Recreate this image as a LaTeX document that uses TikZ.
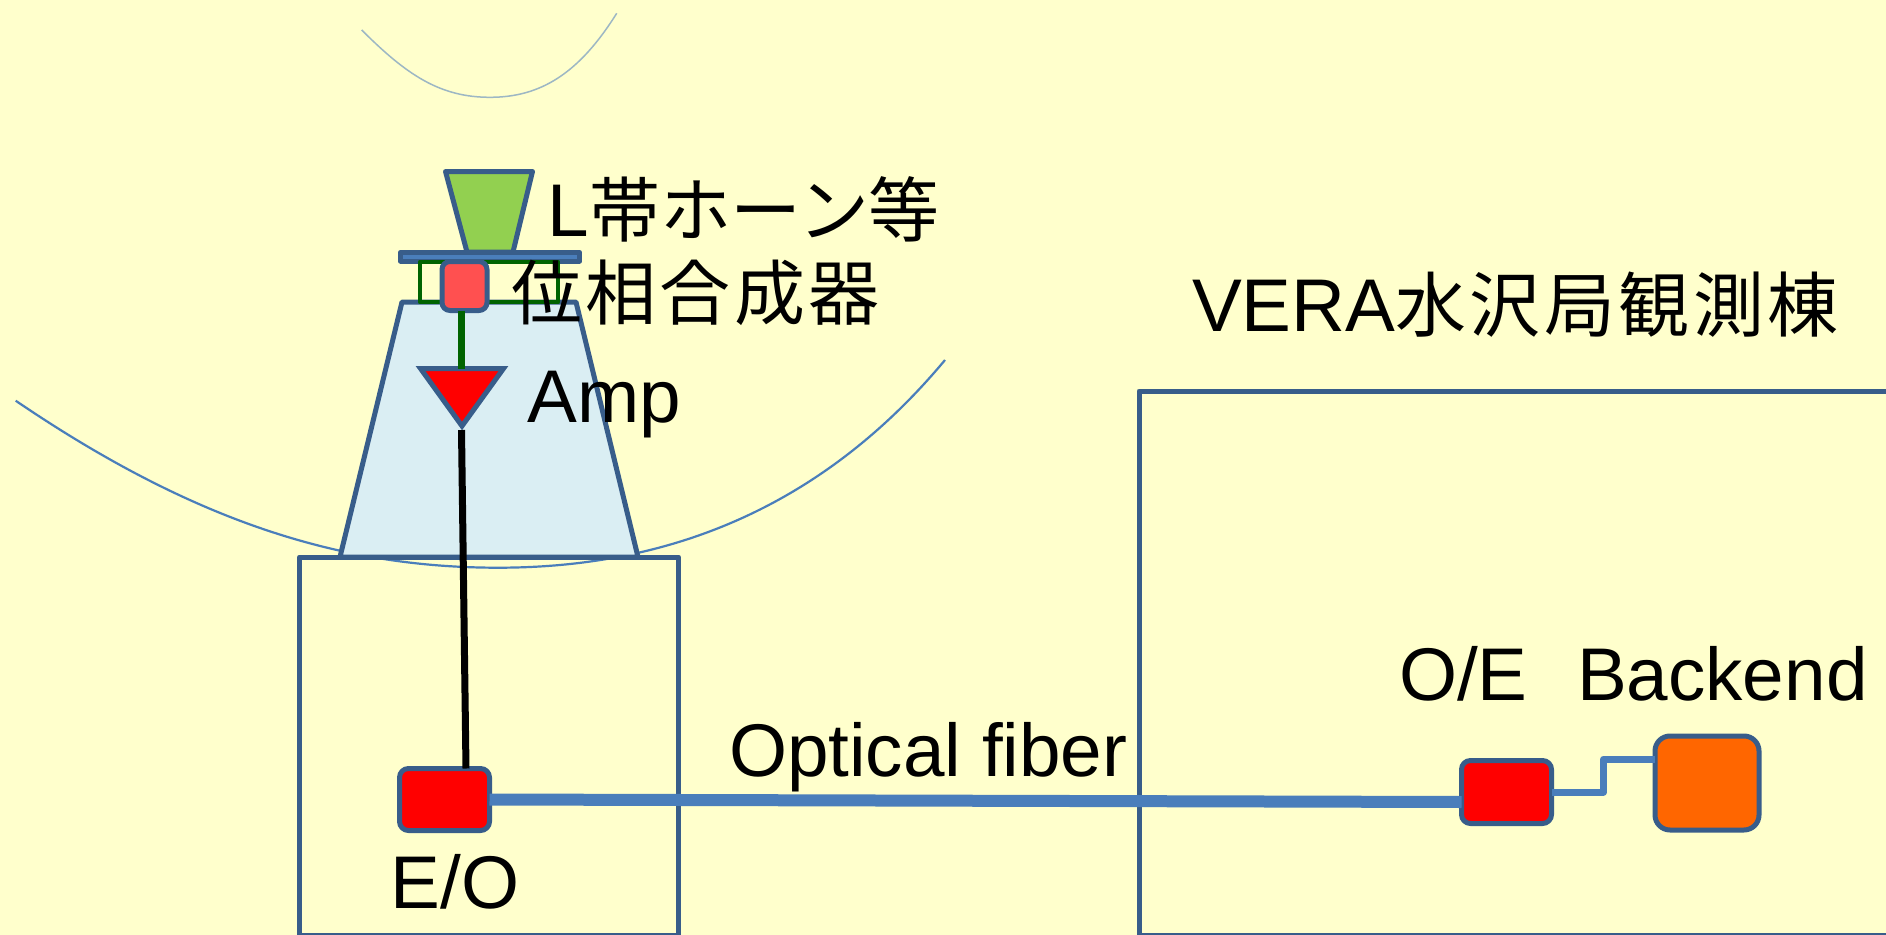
\documentclass[tikz,border=0pt]{standalone}
\usepackage{fontspec}
\setmainfont{Liberation Sans}
\newfontfamily\cjk[Scale=0.95,LetterSpace=5]{Noto Sans CJK JP}
\def\pxu{0.75pt}
\definecolor{bgc}{HTML}{FFFFCC}
\definecolor{edge}{HTML}{385D8A}
\definecolor{fibre}{HTML}{4A7EBB}
\definecolor{arcc}{HTML}{4A7EBB}
\definecolor{arcg}{HTML}{9DB7C4}
\definecolor{trap}{HTML}{DAEEF3}
\definecolor{horn}{HTML}{92D050}
\definecolor{grn}{HTML}{006400}
\definecolor{phasec}{HTML}{FF5050}
\definecolor{bk}{HTML}{FF6600}
\tikzset{
  x=0.75pt,y=-0.75pt,
  outline/.style={draw=edge,line width=5*\pxu,line join=round},
  block/.style={outline,rectangle,inner sep=0pt,outer sep=0pt},
  lab/.style={anchor=base west,inner sep=0pt,outer sep=0pt,font=\fontsize{56pt}{60pt}\selectfont,text=black},
  house/.style={draw=edge,line width=5*\pxu,line join=round,rectangle,inner sep=0pt,outer sep=0pt},
}
\begin{document}
\begin{tikzpicture}
\useasboundingbox (0,0) rectangle (1886,935);
\clip (0,0) rectangle (1886,935);
\fill[bgc] (0,0) rectangle (1886,935);
% dish arcs
\draw[arcg,line width=1.5*\pxu] (361.7,30) .. controls (406.7,75) and (440,97.3) .. (490,97.3) .. controls (540,97.3) and (578.7,74.1) .. (616.7,13.3);
\draw[arcc,line width=2.2*\pxu] (15.7,400.7) .. controls (195.7,523.1) and (343,567.7) .. (498,567.7) .. controls (628,567.7) and (800,534) .. (945,360);
% cabin
\draw[outline,fill=trap] (402,302) -- (576,302) -- (638,557) -- (340,557) -- cycle;
\node[house,minimum width=379*\pxu,minimum height=378.5*\pxu] (hutL) at (489,746.25) {};
\node[house,minimum width=800*\pxu,minimum height=544.5*\pxu] (hutR) at (1539,663.25) {};
% feed
\draw[outline,fill=horn] (445.5,171.5) -- (532.5,171.5) -- (513,252) -- (467,252) -- cycle;
\draw[outline,fill=fibre] (400.5,252.2) rectangle (579.5,261);
\draw[grn,line width=4.5*\pxu,line join=round] (420,262) rectangle (558,302);
\node[block,fill=phasec,rounded corners=8*\pxu,minimum width=45*\pxu,minimum height=49*\pxu] (phase) at (464.5,286) {};
\coordinate (ampin) at (461.5,368.5);
\coordinate (amptip) at (461.5,430);
\draw[outline,line join=miter,fill=red] (420.5,368.5) -- (503.5,368.5) -- (462,426) -- cycle;
\draw[grn,line width=7.5*\pxu] ([xshift=-3*\pxu]phase.south) -- (ampin);
\node[block,fill=red,rounded corners=9*\pxu,minimum width=90*\pxu,minimum height=62*\pxu] (eo) at (444.5,799.5) {};
\node[block,fill=red,rounded corners=9*\pxu,minimum width=90*\pxu,minimum height=63*\pxu] (oe) at (1506.5,792) {};
\node[block,fill=bk,rounded corners=15*\pxu,minimum width=104*\pxu,minimum height=94*\pxu] (be) at (1707,783) {};
\draw[black,line width=7*\pxu] (amptip) -- ([xshift=21.5*\pxu]eo.north);
\draw[fibre,line width=12*\pxu] (eo.east) -- ([yshift=-10*\pxu]oe.west);
\draw[fibre,line width=7*\pxu,line join=round] (oe.east) -- ++(52,0) |- ([yshift=24*\pxu]be.west);
% labels
\node[lab] (tHorn) at (547.5,236) {L{\cjk 帯\kern0.75pt ホ\kern-0.75pt ー\kern-2.25pt ン\kern-0.75pt 等}};
\node[lab] (tPhase) at (511,319) {{\cjk 位相合成器}};
\node[lab] (tAmp) at (527.5,422) {Amp};
\node[lab] (tVera) at (1192,331) {VERA{\cjk 水沢局観測棟}};
\node[lab] (tOE) at (1399,700) {O/E};
\node[lab] (tBack) at (1577,700) {Backend};
\node[lab] (tFib) at (729,776) {Optical fiber};
\node[lab] (tEO) at (390.5,908.5) {E/O};
\end{tikzpicture}
\end{document}
